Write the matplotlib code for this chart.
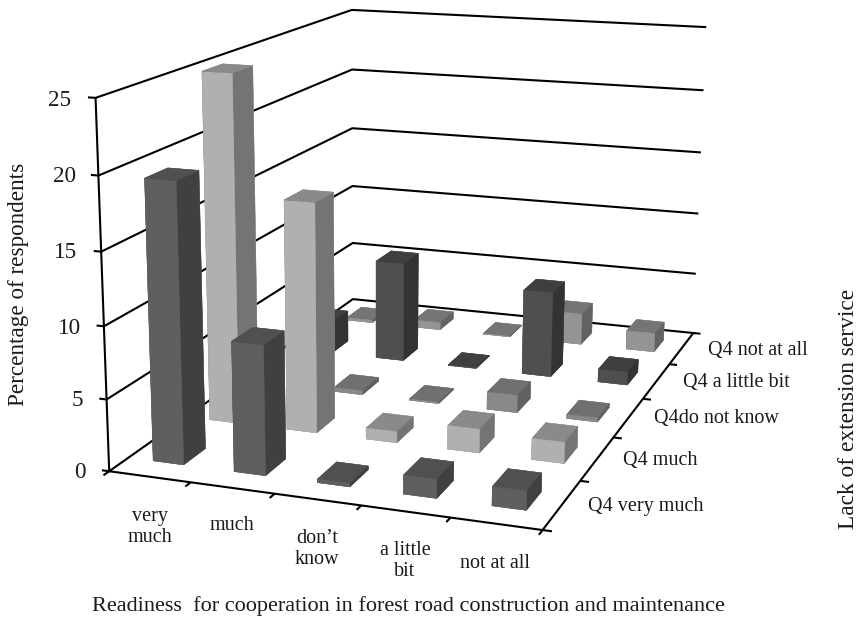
import numpy as np
import matplotlib
matplotlib.use("Agg")
import matplotlib.pyplot as plt
from mpl_toolkits.mplot3d import Axes3D  # noqa

plt.rcParams['font.family'] = ['Liberation Serif', 'DejaVu Serif']

W, H = 864, 620
readiness = ["very\nmuch", "much", "don\u2019t\nknow", "a little\nbit", "not at all"]
lack = ["Q4 very much", "Q4 much", "Q4do not know", "Q4 a little bit", "Q4 not at all"]
z_ticks = [0, 5, 10, 15, 20, 25]
q4_very_much = [19.4, 9.0, 0.25, 1.3, 1.3]
q4_much = [25.0, 16.5, 0.8, 1.7, 1.5]
q4_do_not_know = [0.0, 0.3, 0.1, 1.3, 0.3]
q4_a_little_bit = [2.5, 7.8, 0.05, 6.6, 1.0]
q4_not_at_all = [0.2, 0.6, 0.05, 2.5, 1.5]
series = [q4_very_much, q4_much, q4_do_not_know, q4_a_little_bit, q4_not_at_all]
# (front, side, top) gray per series
shades = [("#5f5f5f", "#404040", "#505050"),
          ("#b0b0b0", "#747474", "#8a8a8a"),
          ("#888888", "#606060", "#707070"),
          ("#4f4f4f", "#333333", "#3f3f3f"),
          ("#949494", "#626262", "#757575")]

# camera calibration: box corners / ticks of the reference -> figure pixels
calib = [((0, 0, 0), (110, 471)), ((5, 0, 0), (542, 529)), ((5, 5, 0), (692, 333)),
         ((0, 5, 0), (353, 299)), ((0, 0, 25), (96, 98)), ((0, 5, 25), (352, 10)),
         ((5, 5, 25), (706, 27)), ((0, 0, 10), (103, 326)), ((5, 5, 10), (699, 214)),
         ((2, 0, 0), (274, 493)), ((3, 0, 0), (361, 507)), ((5, 2, 0), (613, 437)),
         ((5, 3, 0), (645, 399)), ((0, 5, 15), (352, 128)), ((1, 0, 0), (191, 483))]
A = []
for (X, Y, Z), (u, v) in calib:
    Xs, Ys, Zs = X / 5, Y / 5, Z / 25
    A.append([Xs, Ys, Zs, 1, 0, 0, 0, 0, -u * Xs, -u * Ys, -u * Zs, -u])
    A.append([0, 0, 0, 0, Xs, Ys, Zs, 1, -v * Xs, -v * Ys, -v * Zs, -v])
P = np.linalg.svd(np.array(A, float))[2][-1].reshape(3, 4)
P /= P[2] @ np.array([.5, .5, .5, 1])

fig = plt.figure(figsize=(W / 100, H / 100), dpi=100, facecolor="white")
ax = fig.add_axes([0, 0, 1, 1], projection="3d")
ax.set_axis_off()
ax.computed_zorder = False
ax.apply_aspect = lambda position=None: None
x0, x1 = ax.viewLim.intervalx
y0, y1 = ax.viewLim.intervaly
S = np.diag([1 / 5, 1 / 5, 1 / 25, 1.0])
to_view = np.array([[(x1 - x0) / W, 0, x0], [0, (y0 - y1) / H, y1], [0, 0, 1]])
Q = to_view @ P
depth = np.array([-0.5, 1.0, -0.3, -3.0])
M = np.vstack([Q[0], Q[1], depth, Q[2]]) @ S
ax.get_proj = lambda: M

LINE = dict(color="black", lw=1.5, zorder=1, solid_capstyle="butt", clip_on=False)
for z in z_ticks:
    ax.plot([-0.09, 0, 0, 5, 5.03 if z == 0 else 5], [0, 0, 5, 5, 5], [z] * 5, **LINE)
ax.plot([0, 0], [0, 0], [0, 25], **LINE)
ax.plot([0, 5, 5], [0, 0, 5.0], [0, 0, 0], **LINE)
for i in range(6):
    ax.plot([i, i], [0, -0.09], [0, 0], **LINE)
    ax.plot([5, 5.1], [i, i], [0, 0], **LINE)

CX = 0.5
CY = 0.5
SIZE = 0.38
for j in range(4, -1, -1):
    front, side, top = shades[j]
    # faces: bottom, top, front(-y), back(+y), left(-x), right(+x)
    face = [top, top, front, front, side, side]
    for i in range(5):
        h = series[j][i]
        if h <= 0:
            continue
        c = ax.bar3d(i + CX - SIZE / 2, j + CY - SIZE / 2, 0, SIZE, SIZE, h, color=face,
                     shade=False, edgecolor=face, linewidth=0.3)
        c.set_zorder(10 + (4 - j) * 10 + i)

def px(x, y, s, fs=14.5, **kw):
    fig.text(x / W, 1 - y / H, s, fontsize=fs, color="#1a1a1a", **kw)

for lab, x, y in zip(z_ticks, [86, 83, 81, 77, 76, 71], [473, 400, 328, 253, 177, 100]):
    px(x, y, str(lab), fs=16.7, ha="right", va="center")
for lab, x, y in zip(readiness, [150, 232, 317, 405, 495], [527, 526, 549, 561, 563]):
    px(x, y, lab, ha="center", va="center", linespacing=1.15)
for lab, x, y in zip(lack, [588, 623, 654, 683, 708], [506, 460, 418, 383, 350]):
    px(x, y, lab, ha="left", va="center")
px(19, 284, "Percentage of respondents", fs=16.7, rotation=90, ha="center", va="center")
px(849, 409, "Lack of extension service", fs=16.8, rotation=90, ha="center", va="center")
px(408, 606, "Readiness  for cooperation in forest road construction and maintenance",
   fs=16, ha="center", va="center")
fig.savefig("out.png", dpi=100)
